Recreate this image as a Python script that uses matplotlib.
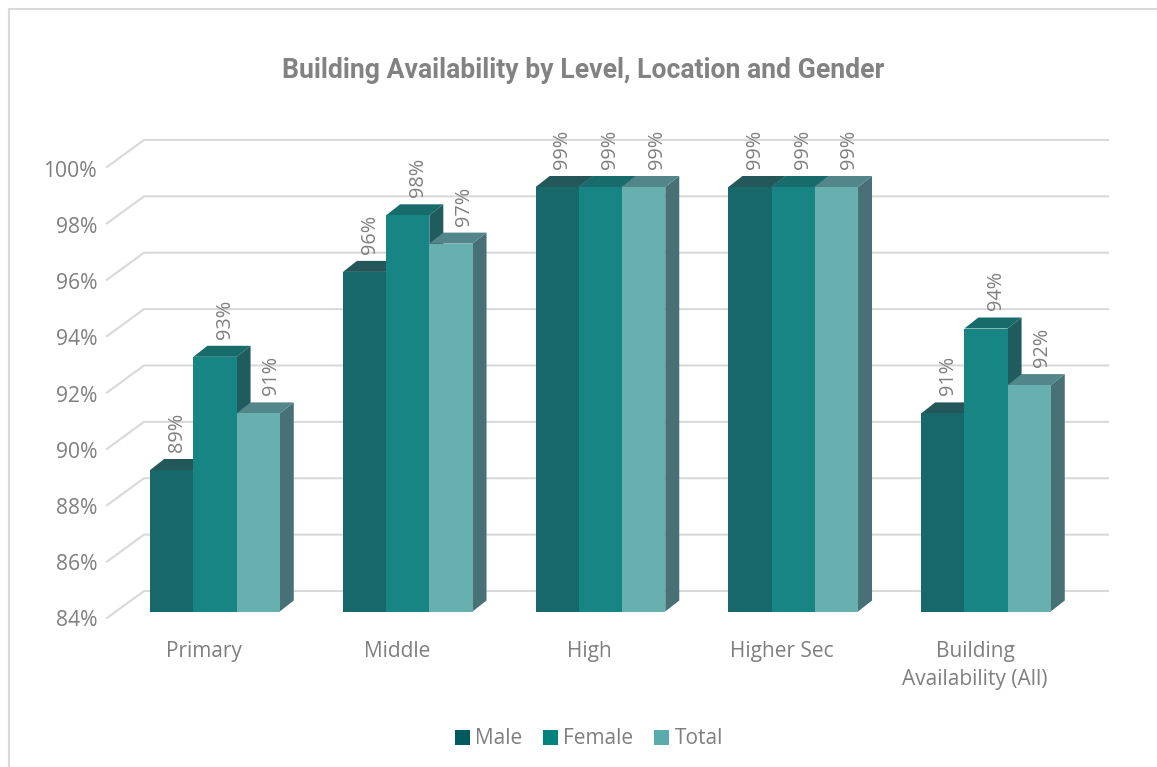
#Building availability, 3D look columns drawn by hand on a flat axes
import matplotlib
matplotlib.use("Agg")
import matplotlib.pyplot as plt
from matplotlib.lines import Line2D
from matplotlib.patches import Patch, Polygon
from matplotlib.transforms import ScaledTranslation

categories = ["Primary", "Middle", "High", "Higher Sec", "Building\nAvailability (All)"]
male = [89, 96, 99, 99, 91]
female = [93, 98, 99, 99, 94]
total = [91, 97, 99, 99, 92]
y_ticks = [84, 86, 88, 90, 92, 94, 96, 98, 100]

W, H = 1157, 767
GREY = "#7f7f7f"
LABEL_FONT = "Open Sans"

#pixel size of one unit on each axis
px_x = 192.75
px_y = 28.3

fig = plt.figure(figsize=(W / 100, H / 100), dpi=100, facecolor="white")
ax = fig.add_axes([118.6 / W, 1 - 611.5 / H, 963.75 / W, 16 * px_y / H])
ax.set_xlim(-0.5, 4.5)
ax.set_ylim(84, 100)
for s in ax.spines.values():
    s.set_visible(False)
ax.patch.set_alpha(0)

#chart frame, only left and top are inside the picture
fig.add_artist(Line2D([9 / W, 9 / W, 1], [0, 1 - 9 / H, 1 - 9 / H], transform=fig.transFigure,
                      color="#d9d9d9", lw=1.5, solid_joinstyle="miter"))

fig.text(583 / W, 1 - 71 / H, "Building Availability by Level, Location and Gender",
         family="Roboto", weight="bold", fontsize=19.15, color="#828282", ha="center", va="center")

#back wall gridlines with the short diagonal on the left
wall_dy = 20.5 / px_y
wall_scale = 28.19 / px_y
left = (144 - 118.6) / px_x - 0.5
right = (1108 - 118.6) / px_x - 0.5
for t in y_ticks:
    g = 84 + (t - 84) * wall_scale
    ax.plot([(107 - 118.6) / px_x - 0.5, left, right],
            [g + (611.5 - 618) / px_y, g + wall_dy, g + wall_dy],
            color="#d9d9d9", lw=1.5, clip_on=False, zorder=1, solid_joinstyle="miter")

#bar depth
bar_w = 43.2 / px_x
depth_x = 14 / px_x
depth_y = 11 / px_y

series = [
    ("Male", male, -bar_w, "#17686b", "#24575a", "#205c5e", "#005a5e", 5),
    ("Female", female, 0, "#178584", "#186b6b", "#205c5e", "#00827f", 10),
    ("Total", total, bar_w, "#68b0af", "#52868b", "#477177", "#5aabab", 13),
]

z = 3
for name, vals, off, front, top, side, leg, lab_dx in series:
    xs = [i + off for i in range(len(vals))]
    for x, v in zip(xs, vals):
        x0 = x - bar_w / 2
        x1 = x + bar_w / 2
        ax.add_patch(Polygon([(x1, 84), (x1 + depth_x, 84 + depth_y), (x1 + depth_x, v + depth_y), (x1, v)],
                             fc=side, ec="none", clip_on=False, zorder=z))
        ax.add_patch(Polygon([(x0, v), (x0 + depth_x, v + depth_y), (x1 + depth_x, v + depth_y), (x1, v)],
                             fc=top, ec="none", clip_on=False, zorder=z))
        ax.annotate(f"{v}%", (x, v), xytext=(lab_dx * 0.72, 18 * 0.72), textcoords="offset points",
                    rotation=90, ha="center", va="bottom", family=LABEL_FONT, fontsize=14.3,
                    color=GREY, zorder=10)
    ax.bar(xs, [v - 84 for v in vals], bottom=84, width=bar_w, color=front, clip_on=False, zorder=z + 0.5)
    z += 1

ax.set_yticks(y_ticks)
ax.set_yticklabels([f"{t}%" for t in y_ticks], family=LABEL_FONT, fontsize=15.2, color=GREY)
ax.set_xticks(range(len(categories)))
ax.set_xticklabels(categories, family=LABEL_FONT, fontsize=15, color=GREY, linespacing=1.4)
ax.tick_params(axis="y", length=0, pad=15.5)
ax.tick_params(axis="x", length=0, pad=21.5)

#labels sit off the front plane because of the floor depth
for t, lab in zip(y_ticks, ax.get_yticklabels()):
    y_shift = ScaledTranslation(0, -(7 + (t - 84) * 0.175) / 100, fig.dpi_scale_trans)
    lab.set_transform(lab.get_transform() + y_shift)
x_shift = ScaledTranslation(-11 / 100, 0, fig.dpi_scale_trans)
for lab in ax.get_xticklabels():
    lab.set_transform(lab.get_transform() + x_shift)

handles = [Patch(fc=s[6], ec="none", label=s[0]) for s in series]
leg = fig.legend(handles=handles, ncol=3, loc="center", bbox_to_anchor=(589 / W, 1 - 739 / H),
                 frameon=False, handlelength=0.72, handleheight=0.72, handletextpad=0.25,
                 columnspacing=1.0, prop={"family": LABEL_FONT, "size": 15})
for t in leg.get_texts():
    t.set_color(GREY)

fig.savefig("out.png", dpi=100)
